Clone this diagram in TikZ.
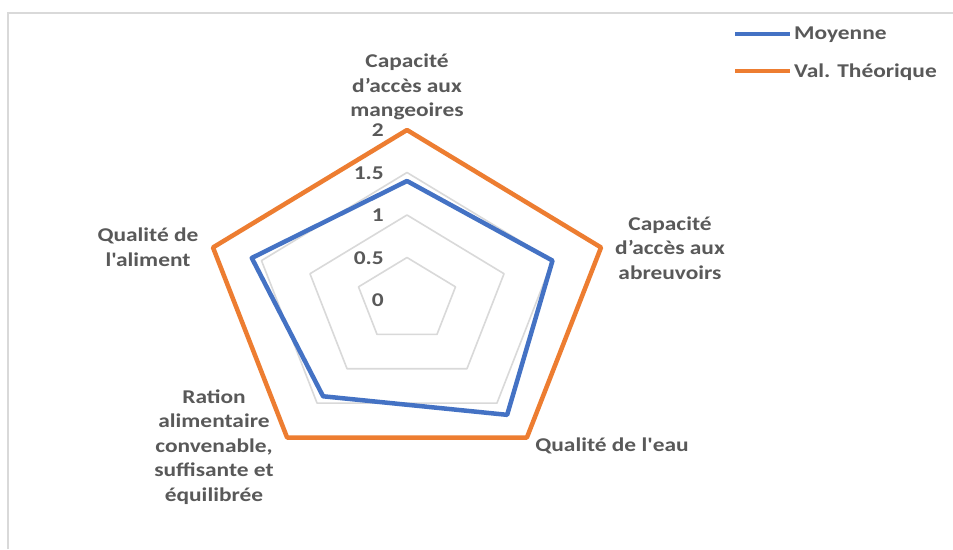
\documentclass[tikz,border=0pt]{standalone}
\usepackage{fontspec}
\newfontfamily\lblfont[FakeStretch=1.2,Ligatures=TeXOff]{Carlito}
\definecolor{txtgray}{HTML}{595959}
\definecolor{gridgray}{HTML}{D9D9D9}
\definecolor{serblue}{HTML}{4472C4}
\definecolor{serorange}{HTML}{ED7D31}
\newcommand{\vtx}[3]{\coordinate (#1) at ({407+102*(#2)*cos(#3)},{300-85*(#2)*sin(#3)});}
\begin{document}
\begin{tikzpicture}[x=1pt,y=-1pt,
  lbl/.style={font=\lblfont\bfseries\fontsize{19.5}{24.5}\selectfont,text=txtgray,inner sep=0pt,align=center},
  numlbl/.style={font=\lblfont\bfseries\fontsize{19.5}{24.5}\selectfont,text=txtgray,inner sep=0pt,anchor=east},
  framestyle/.style={draw=gridgray,line width=1.6pt},
  gridline/.style={draw=gridgray,line width=1.6pt,line join=round},
  seriesM/.style={draw=serblue,line width=4.5pt,line join=round},
  seriesV/.style={draw=serorange,line width=4.5pt,line join=round}]
\useasboundingbox (0,0) rectangle (953,549);
\fill[white] (0,0) rectangle (953,549);
\draw[framestyle] (8,549) -- (8,13) -- (953,13);
% grid pentagons
\foreach \r in {0.5,1,1.5,2}{
  \vtx{g1}{\r}{90}
  \vtx{g2}{\r}{18}
  \vtx{g3}{\r}{-54}
  \vtx{g4}{\r}{-126}
  \vtx{g5}{\r}{162}
  \draw[gridline] (g1) -- (g2) -- (g3) -- (g4) -- (g5) -- cycle;
}
% theoretical values
\vtx{v1}{2}{90}
\vtx{v2}{2}{18}
\vtx{v3}{2}{-54}
\vtx{v4}{2}{-126}
\vtx{v5}{2}{162}
\draw[seriesV] (v1) -- (v2) -- (v3) -- (v4) -- (v5) -- cycle;
% mean values
\vtx{m1}{1.4}{90}
\vtx{m2}{1.5}{18}
\vtx{m3}{1.67}{-54}
\vtx{m4}{1.4}{-126}
\vtx{m5}{1.6}{162}
\draw[seriesM] (m1) -- (m2) -- (m3) -- (m4) -- (m5) -- cycle;
% axis values
\node[numlbl] (n2) at (384,130) {2};
\node[numlbl] (n15) at (384,173) {1.5};
\node[numlbl] (n1) at (384,215) {1};
\node[numlbl] (n05) at (384,258) {0.5};
\node[numlbl] (n0) at (384,300) {0};
% category labels
\node[lbl] (ax1) at (407,87) {Capacité\\d’accès aux\\mangeoires};
\node[lbl] (ax2) at (670,248) {Capacité\\d’accès aux\\abreuvoirs};
\node[lbl] (ax3) at (612,446) {Qualité de l'eau};
\node[lbl] (ax4) at (214,447) {Ration\\alimentaire\\convenable,\\suffisante et\\équilibrée};
\node[lbl] (ax5) at (148,247) {Qualité de\\l'aliment};
% legend
\coordinate (lm1) at (735,34);
\coordinate (lm2) at (790,34);
\coordinate (lv1) at (735,71);
\coordinate (lv2) at (790,71);
\draw[draw=serblue,line width=4.5pt] (lm1) -- (lm2);
\draw[draw=serorange,line width=4.5pt] (lv1) -- (lv2);
\node[lbl,anchor=west] (legM) at (794,35) {Moyenne};
\node[lbl,anchor=west] (legV) at (794,72) {Val. Théorique};
\end{tikzpicture}
\end{document}
